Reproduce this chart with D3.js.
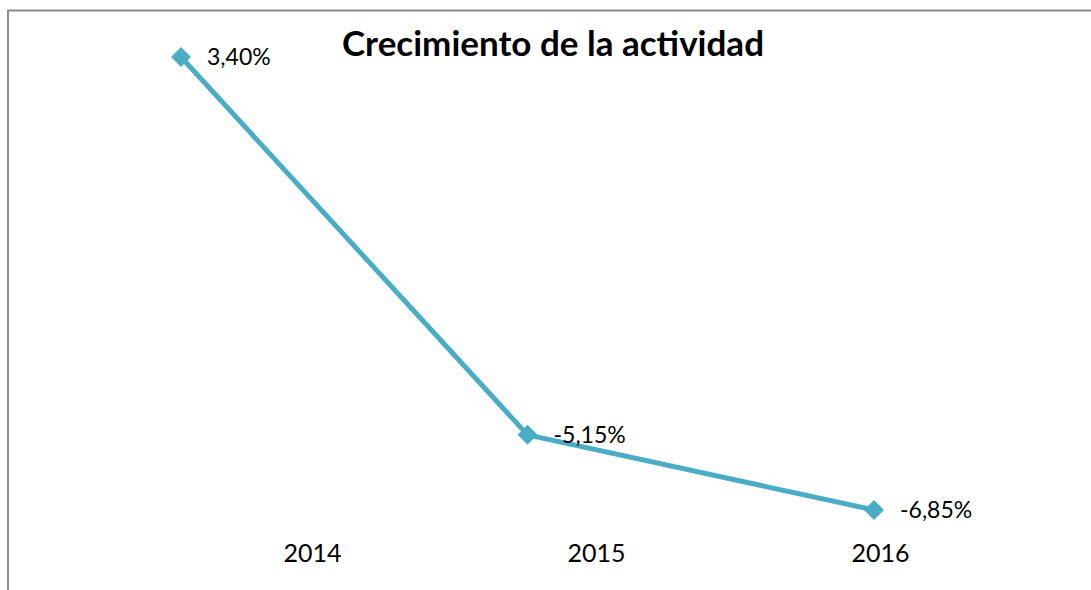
<!DOCTYPE html>
<html>
<head>
<meta charset="utf-8">
<script src="https://cdn.jsdelivr.net/npm/d3@7"></script>
<style>
  body { margin: 0; background: #fff; }
  svg { display: block; font-family: Lato, "Open Sans", sans-serif; }
</style>
</head>
<body>
<div id="chart"></div>
<script>
// data
var years = ["2014", "2015", "2016"];
var growth = [3.40, -5.15, -6.85];
var growthLabels = ["3,40%", "-5,15%", "-6,85%"];

var W = 1091, H = 590;

var svg = d3.select("#chart")
  .append("svg")
    .attr("width", W)
    .attr("height", H);

// chart frame (runs off the right and bottom edges)
svg.append("rect")
  .attr("x", 8)
  .attr("y", 10.5)
  .attr("width", W + 20)
  .attr("height", H + 20)
  .attr("fill", "none")
  .attr("stroke", "#8c8c8c")
  .attr("stroke-width", 2);

// x for the points
var x = d3.scalePoint()
  .domain(years)
  .range([181, 874]);

// y
var y = d3.scaleLinear()
  .domain([-6.85, 3.40])
  .range([510, 57]);

var data = years.map(function(d, i) {
  return {year: d, value: growth[i], label: growthLabels[i]};
});

// category labels sit below, shifted the way the original has them
var xLabel = d3.scalePoint()
  .domain(years)
  .range([312, 880]);

var axis = svg.append("g")
  .attr("transform", "translate(0,544)")
  .call(d3.axisBottom(xLabel).tickSize(0).tickPadding(0));
axis.select(".domain").remove();
axis.selectAll("text")
  .attr("dy", "0.71em")
  .style("font-size", "25px")
  .style("font-family", "Lato, 'Open Sans', sans-serif")
  .attr("fill", "#000");

// line
var line = d3.line()
  .x(function(d) { return x(d.year); })
  .y(function(d) { return y(d.value); });

svg.append("path")
  .datum(data)
  .attr("d", line)
  .attr("fill", "none")
  .attr("stroke", "#4bacc6")
  .attr("stroke-width", 5)
  .attr("stroke-linejoin", "round");

// diamond markers
svg.selectAll(".marker")
  .data(data)
  .enter()
  .append("path")
    .attr("class", "marker")
    .attr("d", d3.symbol(d3.symbolSquare, 200))
    .attr("transform", function(d) {
      return "translate(" + x(d.year) + "," + y(d.value) + ")rotate(45)";
    })
    .attr("fill", "#4bacc6");

// value labels
svg.selectAll(".val")
  .data(data)
  .enter()
  .append("text")
    .attr("class", "val")
    .attr("x", function(d) { return x(d.year) + 26; })
    .attr("y", function(d) { return y(d.value); })
    .attr("dy", "0.35em")
    .style("font-size", "23px")
    .attr("fill", "#000")
    .text(function(d) { return d.label; });

// title
svg.append("text")
  .attr("x", 553)
  .attr("y", 56)
  .attr("text-anchor", "middle")
  .style("font-size", "35px")
  .style("font-weight", "bold")
  .attr("fill", "#000")
  .text("Crecimiento de la actividad");
</script>
</body>
</html>
